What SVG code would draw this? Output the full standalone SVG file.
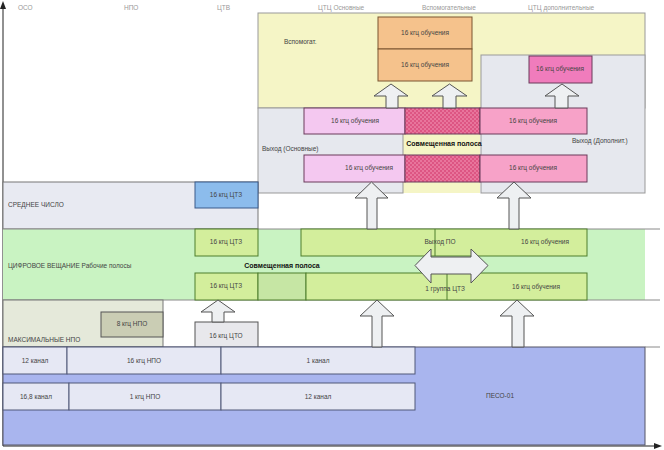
<svg xmlns="http://www.w3.org/2000/svg" width="664" height="450" viewBox="0 0 664 450">
<defs>
<pattern id="hatch" width="4" height="4" patternUnits="userSpaceOnUse">
<rect width="4" height="4" fill="#dd5583"/>
<rect width="2" height="2" fill="#e8759c"/>
<rect x="2" y="2" width="2" height="2" fill="#e8759c"/>
</pattern>
<marker id="ah" markerWidth="8" markerHeight="8" refX="4" refY="4" orient="auto"><path d="M0 1L8 4L0 7Z" fill="#222"/></marker>
<style>
text{font-family:"Liberation Sans",Arial,sans-serif;font-size:6.5px;fill:#444}
.c{text-anchor:middle}
.b{font-weight:bold;fill:#111;font-size:7px}
.h{fill:#999;font-size:6.5px}
.lv{fill:#e6e8f4;stroke:#505878;stroke-width:1}
.gn{fill:#d3ee9c;stroke:#4e7e2c;stroke-width:1}
.pk1{fill:#f4c8f0;stroke:#6a3a5a;stroke-width:1}
.pk2{fill:#f7a2c8;stroke:#6a3a5a;stroke-width:1}
.hx{fill:url(#hatch);stroke:#6a3a5a;stroke-width:1}
.or{fill:#f5c28c;stroke:#7a5530;stroke-width:1}
.arr{fill:#eef0f2;stroke:#555;stroke-width:1}
.ln{stroke:#8a8a8a;stroke-width:1;fill:none}
</style>
</defs>
<rect width="664" height="450" fill="#ffffff"/>

<g id="axes">
<line x1="3" y1="446" x2="3" y2="5" stroke="#222" stroke-width="1" marker-end="url(#ah)"/>
<line x1="3" y1="446" x2="658" y2="446" stroke="#222" stroke-width="1" marker-end="url(#ah)"/>
</g>

<g id="top-labels">
<text x="18" y="10" class="h">ОСО</text>
<text x="124" y="10" class="h">НПО</text>
<text x="217" y="10" class="h">ЦТВ</text>
<text x="318" y="10" class="h">ЦТЦ Основные</text>
<text x="422" y="10" class="h">Вспомогательные</text>
<text x="528" y="10" class="h">ЦТЦ дополнительные</text>
</g>

<g id="band-yellow">
<rect x="258" y="13" width="387" height="95" fill="#f5f5c6" stroke="#999" stroke-width="1"/>
<rect x="403" y="108" width="77" height="85" fill="#f5f5c6"/>
<text x="284" y="44">Вспомогат.</text>
</g>
<g id="band-gray-left">
<rect x="258" y="108" width="145" height="85" fill="#e6e8ee" stroke="#999" stroke-width="1"/>
<text x="262" y="151">Выход (Основные)</text>
</g>
<g id="band-gray-right">
<rect x="481" y="55" width="164" height="138" fill="#e6e8ee" stroke="#999" stroke-width="1"/>
<text x="572" y="143">Выход (Дополнит.)</text>
</g>

<g id="band-sredne">
<rect x="3" y="182" width="255" height="47" fill="#e8eaf2" stroke="#777" stroke-width="1"/>
<text x="8" y="207" fill="#4a5a8a">СРЕДНЕЕ ЧИСЛО</text>
</g>
<g id="band-green">
<rect x="3" y="229" width="642" height="71" fill="#c9f3c2"/>
<line x1="3" y1="229" x2="660" y2="229" class="ln"/>
<line x1="3" y1="300" x2="660" y2="300" class="ln"/>
<text x="8" y="268" fill="#3a6a8a">ЦИФРОВОЕ ВЕЩАНИЕ Рабочие полосы</text>
<text x="282" y="268" class="b c">Совмещенная полоса</text>
</g>
<g id="band-max">
<rect x="3" y="300" width="160" height="47" fill="#e5e9da" stroke="#777" stroke-width="1"/>
<text x="8" y="342" fill="#5a5a5a">МАКСИМАЛЬНЫЕ НПО</text>
</g>
<g id="band-blue">
<rect x="3" y="347" width="642" height="98" fill="#a9b5ee" stroke="#556" stroke-width="1"/>
<line x1="645" y1="347" x2="660" y2="347" class="ln"/>
<text x="500" y="398" class="c" fill="#3a4470">ПЕСО-01</text>
</g>

<g id="n-orange1"><rect x="378" y="17" width="94" height="32" class="or"/><text x="425" y="35" class="c">16 кгц обучения</text></g>
<g id="n-orange2"><rect x="378" y="49" width="94" height="32" class="or"/><text x="425" y="67" class="c">16 кгц обучения</text></g>
<g id="n-magenta"><rect x="529" y="56" width="63" height="27" fill="#f07cbc" stroke="#6a3a5a" stroke-width="1"/><text x="560" y="71" class="c">16 кгц обучения</text></g>

<g id="n-p1a"><rect x="304" y="108" width="101" height="26" class="pk1"/><text x="355" y="123" class="c">16 кгц обучения</text></g>
<g id="n-p1b"><rect x="405" y="108" width="75" height="26" class="hx"/></g>
<g id="n-p1c"><rect x="480" y="108" width="107" height="26" class="pk2"/><text x="533" y="123" class="c">16 кгц обучения</text></g>
<g id="n-sovm-top"><text x="444" y="146" class="b c">Совмещенная полоса</text></g>
<g id="n-p2a"><rect x="304" y="155" width="101" height="27" class="pk1"/><text x="369" y="170" class="c">16 кгц обучения</text></g>
<g id="n-p2b"><rect x="405" y="155" width="75" height="27" class="hx"/></g>
<g id="n-p2c"><rect x="480" y="155" width="107" height="27" class="pk2"/><text x="533" y="170" class="c">16 кгц обучения</text></g>

<g id="n-blue"><rect x="195" y="182" width="63" height="26" fill="#8cbcec" stroke="#3a5a8a" stroke-width="1"/><text x="226" y="197" class="c">16 кгц ЦТЗ</text></g>

<g id="n-g1"><rect x="195" y="229" width="63" height="27" class="gn"/><text x="226" y="244" class="c">16 кгц ЦТЗ</text></g>
<g id="n-g2"><rect x="301" y="229" width="286" height="27" class="gn"/><line x1="435" y1="229" x2="435" y2="256" stroke="#4e7e2c"/><text x="440" y="244" class="c">Выход ПО</text><text x="545" y="244" class="c">16 кгц обучения</text></g>
<g id="n-g3"><rect x="195" y="273" width="63" height="27" class="gn"/><text x="226" y="288" class="c">16 кгц ЦТЗ</text></g>
<g id="n-g4"><rect x="258" y="273" width="48" height="27" fill="#c6e6a4" stroke="#4e7e2c" stroke-width="1"/></g>
<g id="n-g5"><rect x="306" y="273" width="281" height="27" class="gn"/><line x1="447" y1="273" x2="447" y2="300" stroke="#4e7e2c"/><text x="445" y="291" class="c">1 группа ЦТЗ</text><text x="536" y="289" class="c">16 кгц обучения</text></g>

<g id="n-npo8"><rect x="101" y="312" width="62" height="25" fill="#cacdb4" stroke="#555" stroke-width="1"/><text x="132" y="326" class="c">8 кгц НПО</text></g>
<g id="n-cto"><rect x="195" y="322" width="63" height="25" fill="#e8e8ec" stroke="#555" stroke-width="1"/><text x="226" y="338" class="c">16 кгц ЦТО</text></g>

<g id="n-r1a"><rect x="3" y="347" width="64" height="27" class="lv"/><text x="35" y="363" class="c">12 канал</text></g>
<g id="n-r1b"><rect x="67" y="347" width="154" height="27" class="lv"/><text x="144" y="363" class="c">16 кгц НПО</text></g>
<g id="n-r1c"><rect x="221" y="347" width="194" height="27" class="lv"/><text x="318" y="363" class="c">1 канал</text></g>
<g id="n-r2a"><rect x="3" y="383" width="66" height="27" class="lv"/><text x="36" y="399" class="c">16,8 канал</text></g>
<g id="n-r2b"><rect x="69" y="383" width="152" height="27" class="lv"/><text x="145" y="399" class="c">1 кгц НПО</text></g>
<g id="n-r2c"><rect x="221" y="383" width="194" height="27" class="lv"/><text x="318" y="399" class="c">12 канал</text></g>

<g id="connectors">
<path class="arr" d="M386 108V96H374L391 84L408 96H398V108Z"/>
<path class="arr" d="M443 108V96H432L449.5 84L467 96H456V108Z"/>
<path class="arr" d="M555 108V96H545L562 84L579 96H568V108Z"/>
<path class="arr" d="M367 229V198H355L371.5 182L388 198H377V229Z"/>
<path class="arr" d="M509 229V198H497L514 182L531 198H519V229Z"/>
<path class="arr" d="M212 322V312H201L218 300L235 312H224V322Z"/>
<path class="arr" d="M372 347V316H360L377 300L394 316H382V347Z"/>
<path class="arr" d="M512 347V316H500L517 300L534 316H524V347Z"/>
<path class="arr" d="M415 265.5L431 249V257H471V249L488 265.5L471 283V274H431V283Z"/>
</g>
</svg>
